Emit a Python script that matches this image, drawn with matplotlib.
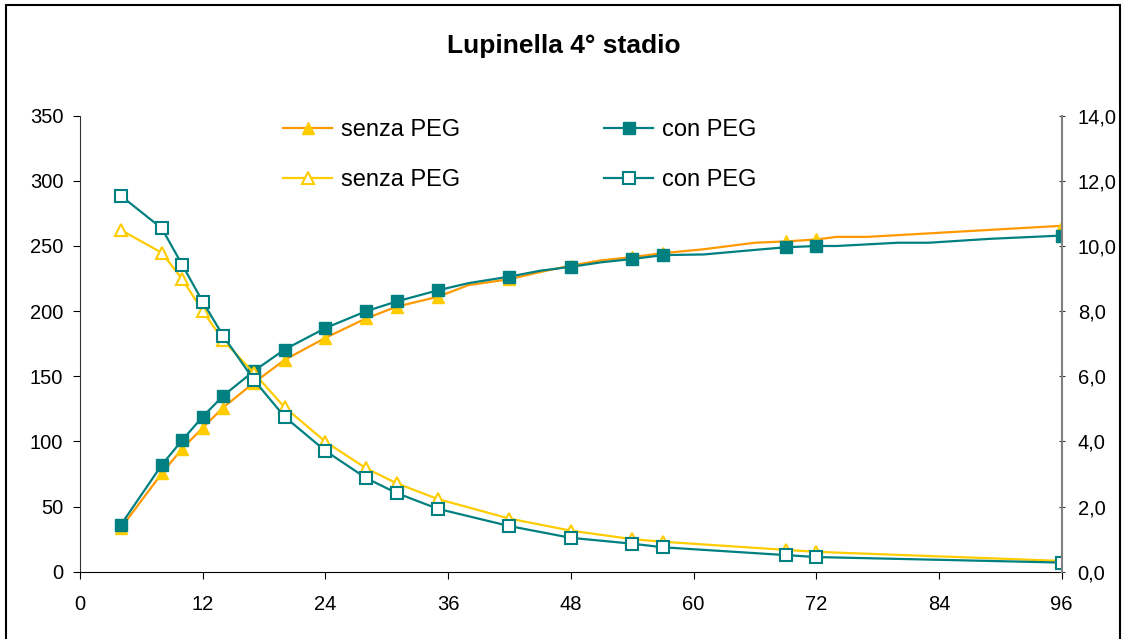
import numpy as np
import matplotlib.pyplot as plt
from matplotlib.patches import Rectangle
from matplotlib.ticker import FuncFormatter, MultipleLocator

plt.rcParams['font.family'] = ['Liberation Sans', 'DejaVu Sans']

# ore in cui sono presenti i marker
ore = [4, 8, 10, 12, 14, 17, 20, 24, 28, 31, 35, 42, 48, 54, 57, 69, 72, 96]

# curve cumulative (asse sinistro), con qualche punto intermedio senza marker
ore_senza_cum = [4, 8, 10, 12, 14, 17, 20, 24, 28, 31, 35, 38, 42, 45, 48, 51, 54, 57,
                 61, 66, 69, 72, 74, 77, 96]
senza_cum = [33.5, 75.5, 94.5, 110.5, 126, 145, 162.5, 179.5, 194.5, 203.5, 211, 220,
             224.5, 230, 235, 239, 241.5, 244.5, 247.5, 252.5, 253.5, 255, 257, 257, 265.5]
ore_con_cum = [4, 8, 10, 12, 14, 17, 20, 24, 28, 31, 35, 38, 42, 45, 48, 51, 54, 57,
               61, 66, 69, 72, 74, 80, 83, 89, 96]
con_cum = [36, 82, 101, 119, 135, 154, 170.5, 187, 200, 207.5, 216, 221.5, 226.5, 231,
           234, 237.5, 240, 243, 243.5, 247, 249, 250, 250, 252.5, 252.5, 255.5, 258]

# curve decrescenti (asse destro)
senza_dec = [10.49, 9.79, 8.98, 8.0, 7.11, 6.1, 5.05, 3.99, 3.17, 2.71, 2.23, 1.63,
             1.26, 1.0, 0.92, 0.67, 0.61, 0.33]
con_dec = [11.54, 10.54, 9.42, 8.29, 7.24, 5.89, 4.76, 3.71, 2.87, 2.41, 1.93, 1.40,
           1.04, 0.86, 0.75, 0.51, 0.45, 0.28]

arancio = '#FF9900'
giallo = '#FFCC00'
verde = '#008080'

fig = plt.figure(figsize=(11.28, 6.39), dpi=100)
ax = fig.add_axes([80/1128, 1 - 571.7/639, 981.7/1128, 456/639])
ax2 = ax.twinx()

mk_s = [i for i, t in enumerate(ore_senza_cum) if t in ore]
mk_c = [i for i, t in enumerate(ore_con_cum) if t in ore]

l1, = ax.plot(ore_senza_cum, senza_cum, '-', color=arancio, lw=1.6, marker='^', ms=9,
              mfc=giallo, mec=giallo, markevery=mk_s, label='senza PEG')
l3, = ax.plot(ore_con_cum, con_cum, '-', color=verde, lw=1.6, marker='s', ms=8,
              mfc=verde, mec=verde, markevery=mk_c, label='con PEG')
l2, = ax2.plot(ore, senza_dec, '-', color=giallo, lw=1.6, marker='^', ms=9,
               mfc='white', mec=giallo, mew=1.5, label='senza PEG')
l4, = ax2.plot(ore, con_dec, '-', color=verde, lw=1.6, marker='s', ms=8,
               mfc='white', mec=verde, mew=1.5, label='con PEG')

ax.set_xlim(0, 96)
ax.set_ylim(0, 350)
ax2.set_ylim(0, 14)
ax.xaxis.set_major_locator(MultipleLocator(12))
ax.yaxis.set_major_locator(MultipleLocator(50))
ax2.yaxis.set_major_locator(MultipleLocator(2))
ax2.yaxis.set_major_formatter(FuncFormatter(lambda v, p: ('%.1f' % v).replace('.', ',')))

for a in (ax, ax2):
    a.spines['top'].set_visible(False)
ax.spines['right'].set_visible(False)
ax2.spines['left'].set_visible(False)
ax2.spines['bottom'].set_visible(False)
ax.spines['left'].set_color('#333333')
ax.spines['bottom'].set_color('black')
ax2.spines['right'].set_color('#808080')
ax2.spines['right'].set_linewidth(1.5)

ax.tick_params(axis='both', labelsize=14.5, length=5, direction='out', pad=7)
ax.tick_params(axis='x', pad=12)
ax2.tick_params(axis='y', labelsize=14.5, length=5, direction='inout', pad=9,
                color='#333333')

fig.text(0.5, 1 - 46/639, 'Lupinella 4° stadio', ha='center', va='center',
         fontsize=19, fontweight='bold')

ax2.legend([l1, l2, l3, l4], ['senza PEG', 'senza PEG', 'con PEG', 'con PEG'],
           ncol=2, frameon=False, fontsize=17, loc='upper left',
           bbox_to_anchor=(283/1128, 1 - 119/639), bbox_transform=fig.transFigure,
           borderaxespad=0, borderpad=0, handlelength=2.08, handletextpad=0.38,
           columnspacing=6.1, labelspacing=1.19)

fig.patches.append(Rectangle((6/1128, -0.05), 1114/1128, 1.05 - 5/639, fill=False,
                             lw=1.5, edgecolor='black', transform=fig.transFigure))

fig.savefig('out.png', dpi=100)
